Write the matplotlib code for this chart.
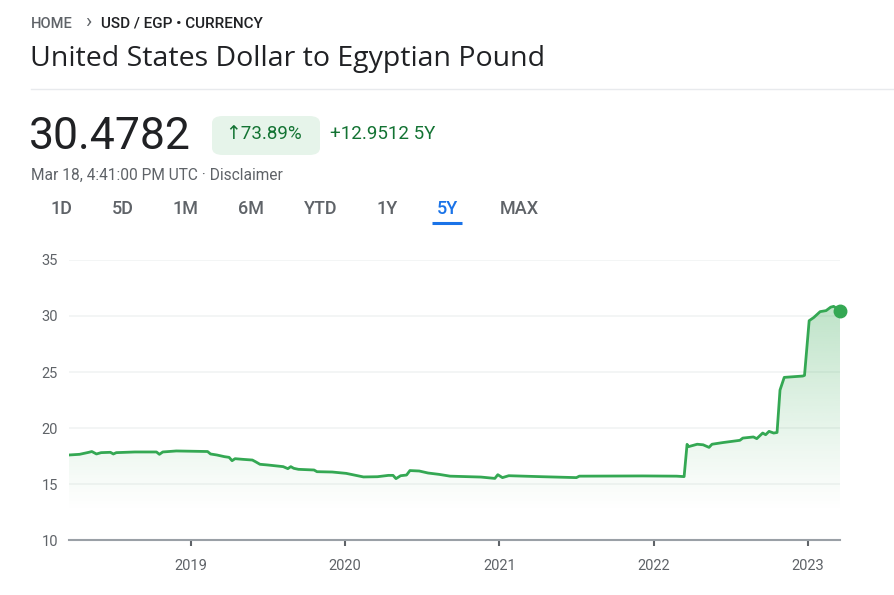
import numpy as np
import pandas as pd
import matplotlib
matplotlib.use("Agg")
import matplotlib.pyplot as plt
import matplotlib.dates as mdates
from matplotlib.patches import FancyBboxPatch
from matplotlib.colors import to_rgb

plt.rcParams['font.family'] = ['Roboto', 'DejaVu Sans']

# USD/EGP, 5 year view
dates = ["2018-03-19", "2018-04-13", "2018-05-05", "2018-05-12", "2018-05-23",
         "2018-06-03", "2018-06-25", "2018-07-02", "2018-07-09", "2018-08-22",
         "2018-10-12", "2018-10-19", "2018-10-27", "2018-11-28", "2019-02-10",
         "2019-02-17", "2019-03-04", "2019-03-22", "2019-04-02", "2019-04-09",
         "2019-04-16", "2019-05-05", "2019-05-27", "2019-06-03", "2019-06-14",
         "2019-07-02", "2019-08-08", "2019-08-19", "2019-08-26", "2019-09-02",
         "2019-09-13", "2019-10-20", "2019-10-27", "2019-12-02", "2020-01-04",
         "2020-02-14", "2020-03-18", "2020-04-13", "2020-04-24", "2020-05-01",
         "2020-05-12", "2020-05-26", "2020-06-03", "2020-06-25", "2020-07-09",
         "2020-07-16", "2020-08-11", "2020-09-06", "2020-11-18", "2020-12-21",
         "2020-12-28", "2021-01-08", "2021-01-23", "2021-04-13", "2021-07-02",
         "2021-07-09", "2021-12-06", "2022-02-24", "2022-03-14", "2022-03-21",
         "2022-03-24", "2022-04-14", "2022-04-28", "2022-05-12", "2022-05-19",
         "2022-06-14", "2022-07-24", "2022-07-31", "2022-08-25", "2022-09-02",
         "2022-09-16", "2022-09-23", "2022-10-01", "2022-10-12", "2022-10-20",
         "2022-10-27", "2022-11-06", "2022-12-20", "2022-12-24", "2023-01-04",
         "2023-01-15", "2023-01-30", "2023-02-13", "2023-02-24", "2023-03-03",
         "2023-03-18"]
rates = [17.59, 17.65, 17.83, 17.90, 17.68,
         17.80, 17.83, 17.68, 17.80, 17.86,
         17.86, 17.65, 17.86, 17.95, 17.90,
         17.68, 17.59, 17.44, 17.38, 17.08,
         17.26, 17.20, 17.14, 17.00, 16.76,
         16.70, 16.55, 16.37, 16.55, 16.40,
         16.31, 16.25, 16.10, 16.07, 15.95,
         15.63, 15.65, 15.77, 15.77, 15.48,
         15.74, 15.80, 16.20, 16.16, 16.04,
         15.98, 15.86, 15.70, 15.62, 15.50,
         15.83, 15.57, 15.74, 15.65, 15.57,
         15.70, 15.72, 15.70, 15.66, 18.54,
         18.33, 18.55, 18.50, 18.27, 18.55,
         18.70, 18.90, 19.10, 19.20, 19.05,
         19.55, 19.40, 19.70, 19.55, 19.60,
         23.39, 24.52, 24.64, 24.70, 29.58,
         29.87, 30.39, 30.48, 30.79, 30.86,
         30.48]
year_ticks = ["2019", "2020", "2021", "2022", "2023"]
y_ticks = [10, 15, 20, 25, 30, 35]
ranges = ["1D", "5D", "1M", "6M", "YTD", "1Y", "5Y", "MAX"]

GREEN = "#34a853"
DARK_GREEN = "#137333"
GREY = "#5f6368"
BLUE = "#1a73e8"

W, H = 895, 595
fig = plt.figure(figsize=(W / 100, H / 100), dpi=100)


def fx(x):
    return x / W


def fy(y):
    return 1 - y / H


# ---- header ----
fig.text(fx(31), fy(24), "HOME", color=GREY, fontsize=10.5, fontweight="medium", va="center")
fig.text(fx(88), fy(23), "›", color=GREY, fontsize=15, va="center", ha="center")
fig.text(fx(101), fy(24), "USD / EGP • CURRENCY", color="#202124", fontsize=11,
         fontweight="medium", va="center")
fig.text(fx(30), fy(59), "United States Dollar to Egyptian Pound", color="#202124",
         fontsize=20.5, va="center", family=["Open Sans", "DejaVu Sans"])
fig.add_artist(plt.Line2D([fx(31), 1], [fy(89), fy(89)], color="#e8eaed", lw=1))

fig.text(fx(29), fy(137), "30.4782", color="#202124", fontsize=32, va="center")
badge = FancyBboxPatch((fx(212), fy(155)), fx(108), 39 / H,
                       boxstyle="round,pad=0,rounding_size=0.012",
                       transform=fig.transFigure, fc="#e6f4ea", ec="none")
fig.add_artist(badge)
fig.text(fx(225), fy(134), "↑73.89%", color=DARK_GREEN, fontsize=13.5, va="center")
fig.text(fx(330), fy(134), "+12.9512 5Y", color=DARK_GREEN, fontsize=13.5, va="center")
fig.text(fx(31), fy(175), "Mar 18, 4:41:00 PM UTC · Disclaimer", color=GREY,
         fontsize=11.2, va="center")

tab_x = [61, 123, 186, 251, 321, 387, 447, 519]
for lab, x in zip(ranges, tab_x):
    col = BLUE if lab == "5Y" else GREY
    fig.text(fx(x), fy(209), lab, color=col, fontsize=13, ha="center", va="center",
             fontweight="medium")
fig.add_artist(plt.Line2D([fx(432), fx(462)], [fy(223), fy(223)], color=BLUE, lw=2.2,
                          solid_capstyle="butt"))

# ---- chart ----
ax = fig.add_axes([fx(69), fy(540), fx(840 - 69), (540 - 260) / H])
x = pd.to_datetime(dates)
xn = mdates.date2num(x)

ax.set_xlim(xn[0], xn[-1])
ax.set_ylim(10, 35)

# gradient fill under the line
rgb = np.array(to_rgb(GREEN))
ys = np.linspace(10, 35, 256)
alpha = np.clip((ys - 12.5) / (31 - 12.5), 0, 1) ** 1.1 * 0.32
img = np.zeros((256, 2, 4))
img[:, :, :3] = rgb
img[:, :, 3] = alpha[:, None]
im = ax.imshow(img, extent=[xn[0], xn[-1], 10, 35], origin="lower", aspect="auto",
               zorder=1, interpolation="bilinear")
poly = ax.fill_between(xn, rates, 10, color="none", lw=0)
im.set_clip_path(poly.get_paths()[0], transform=ax.transData)

ax.plot(xn, rates, color=GREEN, lw=2, zorder=3, solid_joinstyle="round")
ax.plot(xn[-1], rates[-1], "o", color=GREEN, ms=9, zorder=4, clip_on=False)

ax.set_yticks(y_ticks)
ax.set_yticklabels([str(v) for v in y_ticks])
ax.set_xticks(mdates.date2num(pd.to_datetime([y + "-01-01" for y in year_ticks])))
ax.set_xticklabels(year_ticks)

ax.grid(axis="y", color="#f1f3f4", lw=1.2)
ax.set_axisbelow(True)
for s in ["top", "right", "left"]:
    ax.spines[s].set_visible(False)
ax.spines["bottom"].set_color("#9aa0a6")
ax.spines["bottom"].set_linewidth(1.5)
ax.tick_params(axis="y", length=0, pad=8, labelsize=10.5, labelcolor=GREY)
ax.tick_params(axis="x", length=4, width=1.5, color=GREY, pad=10, labelsize=10.5,
               labelcolor=GREY)

fig.savefig("out.png", dpi=100)
